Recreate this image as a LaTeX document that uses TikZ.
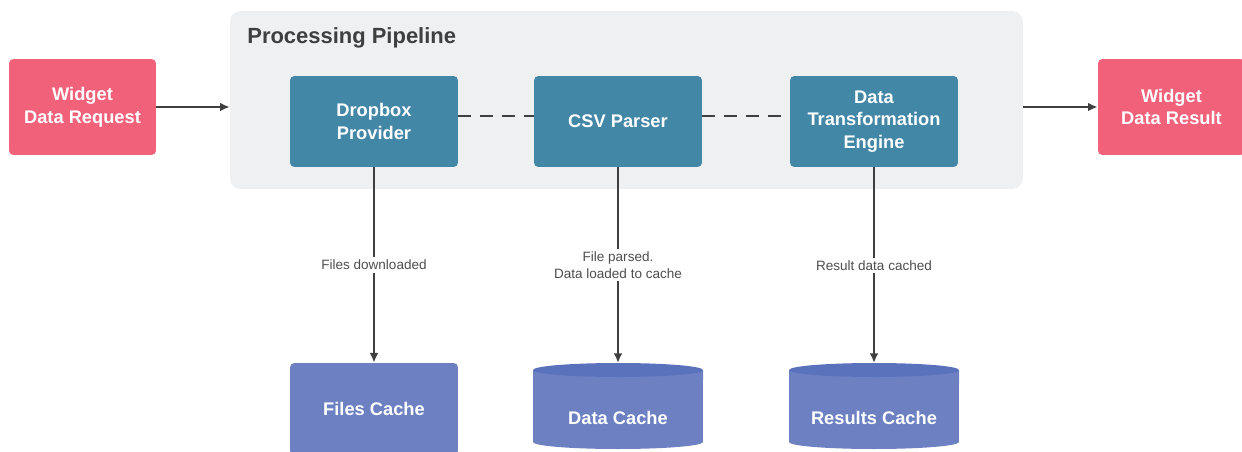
\documentclass[tikz,border=0pt]{standalone}
\usepackage{fontspec}
\setmainfont{Liberation Sans}
\usetikzlibrary{arrows.meta}
\definecolor{reqpink}{HTML}{F2617A}
\definecolor{stageteal}{HTML}{4387A7}
\definecolor{pipegray}{HTML}{EEF0F2}
\definecolor{cacheblue}{HTML}{6C80C2}
\definecolor{cachetop}{HTML}{5A72BB}
\definecolor{linegray}{HTML}{3F3F3F}
\definecolor{labelgray}{HTML}{4D4D4D}

\begin{document}
\begin{tikzpicture}[x=0.02cm, y=0.02cm,
  box/.style={rectangle, rounded corners=2.5pt, text=white, align=center, inner sep=0pt,
    font=\fontsize{10.4}{13}\selectfont\bfseries},
  widget/.style={box, fill=reqpink, minimum width=2.94cm, minimum height=1.92cm},
  stage/.style={box, fill=stageteal, minimum width=3.36cm, minimum height=1.82cm},
  cachebox/.style={box, fill=cacheblue, minimum width=3.36cm, minimum height=1.84cm},
  cachetext/.style={text=white, font=\fontsize{10.4}{13}\selectfont\bfseries},
  flow/.style={-{Latex[length=5.5pt, width=5pt]}, line width=1.1pt, draw=linegray},
  link/.style={line width=1.1pt, linegray, dash pattern=on 7pt off 5.5pt},
  note/.style={fill=white, text=labelgray, align=center, inner sep=1.5pt,
    font=\fontsize{7.7}{9.6}\selectfont}]
\useasboundingbox (0,0) rectangle (1242,451);

% pipeline frame
\node[rectangle, fill=pipegray, rounded corners=6pt, minimum width=15.86cm, minimum height=3.56cm] (pipeline) at (626.5,351) {};
\node[anchor=base west, inner sep=0pt, text=linegray, font=\fontsize{12.5}{15}\selectfont\bfseries] (title) at (247,408) {Processing Pipeline};

% widget ends
\node[widget] (request) at (82.5,344) {Widget\\Data Request};
\node[widget] (result) at (1171.5,344) {Widget\\Data Result};

% stages
\node[stage] (dropbox) at (374,329.5) {Dropbox\\Provider};
\node[stage] (csv) at (618,329.5) {CSV Parser};
\node[stage] (engine) at (874,329.5) {Data\\Transformation\\Engine};

% caches
\node[cachebox] (files) at (374,42) {Files Cache};
\foreach \x/\name/\txt in {618/datacache/Data Cache, 874/resultcache/Results Cache} {
  \fill[cacheblue] (\x-85,81) -- (\x-85,9) arc[start angle=180, end angle=360, x radius=1.7cm, y radius=0.14cm]
    -- (\x+85,81) -- cycle;
  \fill[cachetop] (\x,81) ellipse[x radius=1.7cm, y radius=0.14cm];
  \coordinate (\name-top) at (\x,88);
  \node[cachetext] (\name) at (\x,33) {\txt};
}

\draw[flow] (request) -- (request -| pipeline.west);
\draw[flow] (result -| pipeline.east) -- (result);
\draw[link] ([yshift=0.11cm]dropbox.east) -- ([yshift=0.11cm]csv.west);
\draw[link] ([yshift=0.11cm]csv.east) -- ([yshift=0.11cm]engine.west);
\draw[flow] (dropbox) -- node[note] {Files downloaded} (files);
\draw[flow] (csv) -- node[note] {File parsed.\\Data loaded to cache} (datacache-top);
\draw[flow] (engine) -- node[note] {Result data cached} (resultcache-top);
\end{tikzpicture}
\end{document}
